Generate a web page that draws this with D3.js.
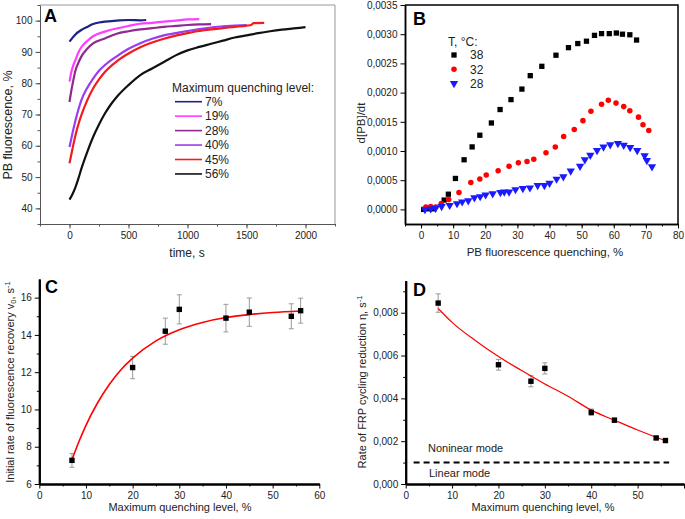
<!DOCTYPE html>
<html>
<head>
<meta charset="utf-8">
<script src="https://cdn.jsdelivr.net/npm/d3@7"></script>
<style>
body{margin:0;background:#fff}
svg{display:block;font-family:"Liberation Sans",Arial,sans-serif}
</style>
</head>
<body>
<svg id="fig" width="685" height="519"></svg>
<script>
// ---- panel A: recovery traces [time s, PB fluorescence %]
const levelsA=["7%","19%","28%","40%","45%","56%"]
const colorsA=["#1b2484","#ff3cff","#8e2a8e","#9a3cf2","#f21c1c","#111111"]
const trace7=[[0,93.3],[25,94.5],[50,95.6],[100,97],[150,98],[200,98.9],[250,99.4],[300,99.7],[400,100],[500,100.2],[600,100.1],[650,100.2]]
const trace19=[[0,80.5],[15,83.5],[30,85.5],[50,87.4],[75,89.8],[100,91.5],[150,93.5],[200,95],[300,96.5],[400,97.5],[500,98.3],[600,99],[700,99.3],[800,99.7],[900,100],[1000,100.4],[1100,100.5]]
const trace28=[[0,74],[15,77.5],[30,80.5],[50,84],[75,86.5],[100,88.5],[150,91],[200,92.7],[300,94.3],[400,95.8],[500,96.6],[600,97.2],[700,97.6],[800,98],[900,98.3],[1000,98.6],[1100,98.8],[1200,98.9]]
const trace40=[[0,59.6],[25,64],[50,68],[75,71.5],[100,74.5],[150,78.5],[200,81.5],[250,84],[300,85.8],[400,88.6],[500,91],[600,92.8],[700,94.2],[800,95.3],[900,96],[1000,96.7],[1100,97.3],[1200,97.8],[1300,98.2],[1400,98.4],[1500,98.6]]
const trace45=[[0,54.4],[25,59],[50,63.3],[75,66.8],[100,69.7],[150,74.5],[200,78.3],[250,81.2],[300,83.6],[400,87],[500,89.5],[600,91.5],[700,93],[800,94.2],[900,95.2],[1000,96],[1100,96.7],[1200,97.2],[1300,97.6],[1400,98],[1500,98.4],[1540,98.6],[1560,99.2],[1650,99.3]]
const trace56=[[0,42.8],[25,44.5],[50,46.7],[75,49.5],[100,52.6],[150,58],[200,62.8],[250,66.8],[300,70.3],[350,73.2],[400,75.6],[500,79.4],[600,82.6],[700,84.7],[800,86.8],[900,88.9],[1000,90.5],[1100,91.6],[1200,92.6],[1300,93.6],[1400,94.6],[1500,95.3],[1600,96],[1700,96.6],[1800,97.1],[1900,97.5],[2000,97.9]]
const tracesA=[trace7,trace19,trace28,trace40,trace45,trace56]

// ---- panel B: d[PB]/dt vs quenching % at three temperatures
const tempsB=["38","32","28"]
const pts38=[[0.8,0],[2.5,0.00001],[4,0.00001],[7.2,0.00016],[8.5,0.00026],[10.7,0.00053],[13.4,0.00085],[15.9,0.00107],[18.3,0.00127],[21.9,0.00148],[24.6,0.00171],[28,0.00188],[31.4,0.00206],[34,0.00229],[37.6,0.00245],[42,0.00264],[45.9,0.00277],[48.8,0.00284],[51.5,0.00288],[54,0.00298],[56.2,0.00301],[58.6,0.00301],[60.8,0.00302],[62.7,0.003],[65,0.00299],[67.1,0.0029]]
const pts32=[[1.5,0.00004],[3,0.00005],[4.6,0.00004],[6.3,0.0001],[8.6,0.00017],[11.8,0.00029],[15.5,0.00046],[18.3,0.00052],[20.3,0.00059],[24,0.00066],[27.4,0.00074],[30.3,0.0008],[33,0.00082],[35.1,0.00086],[38.9,0.00097],[41.8,0.00107],[44.4,0.00125],[47.7,0.00137],[50.4,0.00152],[52.9,0.00168],[56.2,0.0018],[58.3,0.00187],[60.7,0.00182],[63.1,0.00176],[65,0.00169],[67.7,0.00158],[69.1,0.00145],[70.9,0.00135]]
const pts28=[[1.2,0],[3,0.00001],[4.5,0.00002],[6.4,0.00005],[8.9,0.00007],[11.2,0.0001],[12.8,0.00013],[14.7,0.00015],[16.6,0.0002],[18.4,0.00022],[20.1,0.00025],[22.3,0.00027],[24.7,0.00029],[25.9,0.0003],[27.4,0.0003],[29.4,0.00034],[31.7,0.00036],[33.9,0.00037],[36.3,0.00041],[38.4,0.00041],[40,0.00045],[42.2,0.00052],[44.3,0.00056],[46.6,0.00066],[49.5,0.00074],[51,0.00085],[52.7,0.00093],[54.8,0.00101],[56.8,0.00107],[58.9,0.00111],[61.3,0.00113],[63.1,0.0011],[65.1,0.00106],[67.3,0.00101],[69.6,0.00092],[70.3,0.00084],[71.9,0.00073]]

// ---- panel C: initial recovery rate vs max quenching
const levelC=[7,20,27,30,40,45,54,56]
const rateC=[7.27,12.25,14.2,15.37,14.9,15.22,15.0,15.3]
const errC=[0.37,0.6,0.7,0.78,0.74,0.76,0.67,0.67]
const fitC=[[7,7.3],[8.5,8.28],[10,9.15],[12.5,10.36],[15,11.34],[17.5,12.13],[20,12.75],[25,13.68],[30,14.28],[35,14.67],[40,14.93],[45,15.09],[50,15.2],[56,15.28]]

// ---- panel D: FRP cycling reduction rate vs max quenching
const levelD=[7,20,27,30,40,45,54,56]
const rateD=[0.00845,0.00557,0.0048,0.0054,0.00335,0.00298,0.00215,0.00203]
const errD=[0.00043,0.00025,0.00026,0.00026,0.00015,0.0001,0.00007,0.00006]
const fitD=[[7,0.0082],[10,0.00755],[15,0.0067],[20,0.00595],[25,0.0053],[30,0.00467],[35,0.0041],[40,0.00345],[45,0.00298],[50,0.00252],[56,0.00202]]
const modeLevel=0.001

const svg=d3.select("#fig")
svg.append("rect").attr("width",685).attr("height",519).attr("fill","#fff")

const comma=f=>d=>d3.format(f)(d).replace(".",",")

function axes(x,y,o){
  const g=svg.append("g")
  const col=o.color||"#000"
  const y0=y.range()[0], x0=x.range()[0]
  const minX=g.append("g").attr("transform",`translate(0,${y0})`)
    .call(d3.axisBottom(x).tickValues(o.xMinor).tickSize(2.5).tickSizeOuter(0).tickFormat(""))
  const minY=g.append("g").attr("transform",`translate(${x0},0)`)
    .call(d3.axisLeft(y).tickValues(o.yMinor).tickSize(2.5).tickSizeOuter(0).tickFormat(""))
  const gx=g.append("g").attr("transform",`translate(0,${y0})`)
    .call(d3.axisBottom(x).tickValues(o.xTicks).tickSize(4.5).tickSizeOuter(0).tickPadding(3).tickFormat(o.xFmt||d3.format("d")))
  const gy=g.append("g").attr("transform",`translate(${x0},0)`)
    .call(d3.axisLeft(y).tickValues(o.yTicks).tickSize(4.5).tickSizeOuter(0).tickPadding(3).tickFormat(o.yFmt||d3.format("d")))
  g.selectAll("g").attr("font-family",null).attr("font-size",10)
  g.selectAll("text").attr("fill","#222")
  g.selectAll("line").attr("stroke",col).attr("stroke-width",1)
  g.selectAll(".domain").attr("stroke",col).attr("stroke-width",o.lw||1)
  if(o.box){
    g.append("path").attr("fill","none").attr("stroke",o.boxColor||col).attr("stroke-width",o.lw||1)
      .attr("d",`M${x.range()[0]},${y.range()[1]}H${x.range()[1]}V${y0}`)
  }
  return g
}

function ylabel(x,y,txt,size){
  return svg.append("text").attr("transform",`translate(${x},${y}) rotate(-90)`)
    .attr("text-anchor","middle").attr("dy","0.35em").attr("font-size",size).attr("fill","#222").text(txt)
}
function xlabel(x,y,txt,size){
  return svg.append("text").attr("x",x).attr("y",y).attr("text-anchor","middle")
    .attr("font-size",size).attr("fill","#222").text(txt)
}
function letter(x,y,t){
  svg.append("text").attr("x",x).attr("y",y).attr("font-size",18).attr("font-weight","bold").text(t)
}

// ================= A =================
const xA=d3.scaleLinear().domain([-250,2250]).range([40,335])
const yA=d3.scaleLinear().domain([35,105]).range([224,5])
axes(xA,yA,{xTicks:d3.range(0,2001,500),xMinor:d3.range(-250,2251,250),
  yTicks:d3.range(40,101,10),yMinor:d3.range(35,106,5),color:"#555",box:true,boxColor:"#999"})
const lineA=d3.line().x(d=>xA(d[0])).y(d=>yA(d[1])).curve(d3.curveMonotoneX)
tracesA.forEach((tr,i)=>{
  svg.append("path").attr("d",lineA(tr)).attr("fill","none")
    .attr("stroke",colorsA[i]).attr("stroke-width",2.2)
})
letter(44,22,"A")
xlabel(187,257,"time, s",12)
ylabel(8,125,"PB fluorescence, %",12.5)
const legA=svg.append("g")
legA.append("text").attr("x",172).attr("y",92).attr("font-size",12).attr("fill","#222").text("Maximum quenching level:")
levelsA.forEach((l,i)=>{
  const yy=101.7+i*14.45
  legA.append("line").attr("x1",175).attr("x2",202).attr("y1",yy).attr("y2",yy)
    .attr("stroke",colorsA[i]).attr("stroke-width",1.6)
  legA.append("text").attr("x",205).attr("y",yy).attr("dy","0.36em").attr("font-size",12).attr("fill","#222").text(l)
})

// ================= B =================
const xB=d3.scaleLinear().domain([-5,80]).range([405,678])
const yB=d3.scaleLinear().domain([-0.00025,0.0035]).range([224,5])
axes(xB,yB,{xTicks:d3.range(0,81,10),xMinor:d3.range(-5,81,5),
  yTicks:d3.range(0,0.00351,0.0005),yMinor:[],yFmt:comma(".4f"),lw:1.5,box:true})
const symB=[d3.symbolSquare,d3.symbolCircle,d3.symbolTriangle]
const colB=["#000","#ff0000","#1a1aff"]
const sizeB=[28,24,30]
;[pts38,pts32,pts28].forEach((pts,i)=>{
  svg.append("g").selectAll("path").data(pts).join("path")
    .attr("transform",d=>`translate(${xB(d[0])},${yB(d[1])})`+(i==2?" rotate(180)":""))
    .attr("d",d3.symbol(symB[i],sizeB[i])).attr("fill",colB[i])
})
letter(413,25,"B")
svg.append("text").attr("x",448).attr("y",46).attr("font-size",12).attr("fill","#222").text("T, °C:")
tempsB.forEach((t,i)=>{
  const yy=55+i*14.2
  svg.append("path").attr("transform",`translate(454,${yy})`+(i==2?" rotate(180)":""))
    .attr("d",d3.symbol(symB[i],sizeB[i])).attr("fill",colB[i])
  svg.append("text").attr("x",470).attr("y",yy).attr("dy","0.36em").attr("font-size",12).attr("fill","#222").text(t)
})
xlabel(545,256,"PB fluorescence quenching, %",11.5)
ylabel(361,123,"d[PB]/dt",11.5)

// ================= C =================
const xC=d3.scaleLinear().domain([0,60]).range([39.3,319.3])
const yC=d3.scaleLinear().domain([6,17]).range([484,279])
axes(xC,yC,{xTicks:d3.range(0,61,10),xMinor:d3.range(5,60,10),
  yTicks:d3.range(6,17,2),yMinor:d3.range(7,17,2),lw:2})
function errbars(x,y,xs,ys,es){
  const g=svg.append("g").attr("stroke","#999").attr("stroke-width",1)
  xs.forEach((v,i)=>{
    const cx=x(v),t=y(ys[i]+es[i]),b=y(ys[i]-es[i])
    g.append("line").attr("x1",cx).attr("x2",cx).attr("y1",t).attr("y2",b)
    g.append("line").attr("x1",cx-2.5).attr("x2",cx+2.5).attr("y1",t).attr("y2",t)
    g.append("line").attr("x1",cx-2.5).attr("x2",cx+2.5).attr("y1",b).attr("y2",b)
  })
}
errbars(xC,yC,levelC,rateC,errC)
svg.append("path").attr("d",d3.line().x(d=>xC(d[0])).y(d=>yC(d[1])).curve(d3.curveMonotoneX)(fitC))
  .attr("fill","none").attr("stroke","#ff0000").attr("stroke-width",1.6)
svg.append("g").selectAll("rect").data(levelC).join("rect")
  .attr("x",d=>xC(d)-2.7).attr("y",(d,i)=>yC(rateC[i])-2.7).attr("width",5.4).attr("height",5.4).attr("fill","#000")
letter(45,293,"C")
xlabel(180,511,"Maximum quenching level, %",11)
const tyC=ylabel(10,382,"",11)
tyC.append("tspan").text("Initial rate of fluorescence recovery v")
tyC.append("tspan").attr("font-size",7.5).attr("dy",2.5).text("0")
tyC.append("tspan").attr("dy",-2.5).text(", s")
tyC.append("tspan").attr("font-size",7.5).attr("dy",-4).text("-1")

// ================= D =================
const xD=d3.scaleLinear().domain([0,60]).range([405.7,684])
const yD=d3.scaleLinear().domain([0,0.0095]).range([484,280.6])
axes(xD,yD,{xTicks:d3.range(0,61,10),xMinor:d3.range(5,60,10),
  yTicks:d3.range(0,0.0081,0.002),yMinor:d3.range(0.001,0.0095,0.002),yFmt:comma(".3f"),lw:2})
  .selectAll("text").filter(d=>d===60).remove()
errbars(xD,yD,levelD,rateD,errD)
svg.append("path").attr("d",d3.line().x(d=>xD(d[0])).y(d=>yD(d[1])).curve(d3.curveMonotoneX)(fitD))
  .attr("fill","none").attr("stroke","#ff0000").attr("stroke-width",1.2)
svg.append("g").selectAll("rect").data(levelD).join("rect")
  .attr("x",d=>xD(d)-2.7).attr("y",(d,i)=>yD(rateD[i])-2.7).attr("width",5.4).attr("height",5.4).attr("fill","#000")
svg.append("line").attr("x1",xD(1.7)).attr("x2",xD(56.8)).attr("y1",yD(modeLevel)).attr("y2",yD(modeLevel))
  .attr("stroke","#000").attr("stroke-width",2).attr("stroke-dasharray","6,4")
svg.append("text").attr("x",428).attr("y",452).attr("font-size",11).attr("fill","#222").text("Noninear mode")
svg.append("text").attr("x",429).attr("y",477).attr("font-size",11).attr("fill","#222").text("Linear mode")
letter(413,296,"D")
xlabel(543,511,"Maximum quenching level, %",11)
const tyD=ylabel(362,382,"",11)
tyD.append("tspan").text("Rate of FRP cycling reduction η, s")
tyD.append("tspan").attr("font-size",7.5).attr("dy",-4).text("-1")
</script>
</body>
</html>
